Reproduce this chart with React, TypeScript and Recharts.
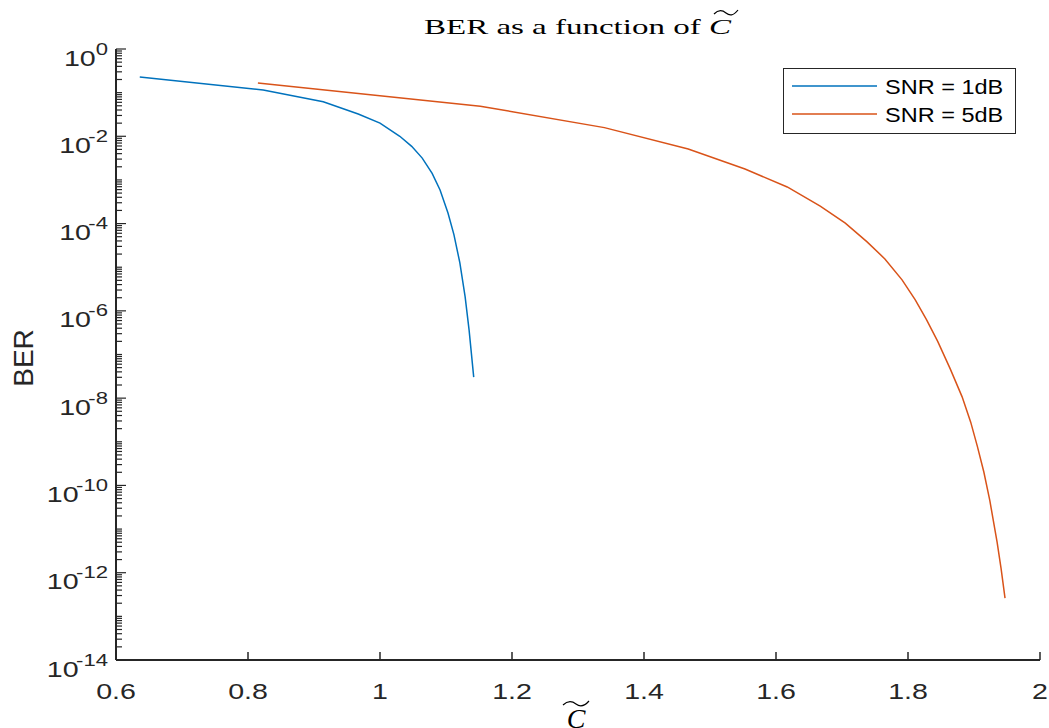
import React from 'react';
import { LineChart, Line, XAxis, YAxis, Legend, Customized } from 'recharts';

// ---- data ----
const snr1C = [0.636, 0.823, 0.914, 0.967, 1.000, 1.030, 1.048, 1.064, 1.079, 1.091, 1.103, 1.112, 1.121, 1.129, 1.135, 1.142];
const snr1BER = [0.229, 0.115, 0.0617, 0.0324, 0.02, 0.01, 5.89e-3, 3.16e-3, 1.41e-3, 5.9e-4, 1.74e-4, 5.6e-5, 1.26e-5, 2.09e-6, 3.63e-7, 3.02e-8];

const snr5C = [0.815, 1.152, 1.340, 1.467, 1.553, 1.617, 1.667, 1.705, 1.738, 1.765, 1.791, 1.811, 1.828, 1.845, 1.864, 1.882, 1.895, 1.905, 1.915, 1.924, 1.935, 1.941, 1.947];
const snr5BER = [0.166, 0.049, 0.0158, 5.13e-3, 1.78e-3, 6.9e-4, 2.51e-4, 1.02e-4, 3.8e-5, 1.55e-5, 5.13e-6, 1.78e-6, 6.31e-7, 2.0e-7, 4.68e-8, 1.07e-8, 2.82e-9, 7.94e-10, 2.0e-10, 4.47e-11, 5.0e-12, 1.26e-12, 2.63e-13];

const seriesNames = ['SNR = 1dB', 'SNR = 5dB'];
const seriesColors = ['#0072BD', '#D95319'];

const xTicks = [0.6, 0.8, 1, 1.2, 1.4, 1.6, 1.8, 2];
const xTickLabels = ['0.6', '0.8', '1', '1.2', '1.4', '1.6', '1.8', '2'];
const yDecades = [0, -1, -2, -3, -4, -5, -6, -7, -8, -9, -10, -11, -12, -13, -14];
const yLabelExponents = [0, -2, -4, -6, -8, -10, -12, -14];
const yMinorMultipliers = [2, 3, 4, 5, 6, 7, 8, 9];

const titleText = 'BER as a function of ';
const xLabelText = 'C';
const yLabelText = 'BER';

// ---- derived tables ----
const snr1Data = snr1C.map((c, i) => ({ x: c, y: snr1BER[i] }));
const snr5Data = snr5C.map((c, i) => ({ x: c, y: snr5BER[i] }));
const yTicks: number[] = [];
yDecades.forEach((d) => {
  yTicks.push(Math.pow(10, d));
  if (d < 0) yMinorMultipliers.forEach((m) => yTicks.push(m * Math.pow(10, d)));
});

const AX = '#262626';
const SANS = '"Liberation Sans", Arial, Helvetica, sans-serif';
const SERIF = '"Liberation Serif", "Times New Roman", serif';
const SX = 1.3;

const tickKind = (v: number) => {
  const l = Math.log10(v);
  const e = Math.round(l);
  const isDecade = Math.abs(l - e) < 1e-6;
  return { e, labeled: isDecade && yLabelExponents.includes(e) };
};

const LeftTick = (props: any) => {
  const { x, y, payload } = props;
  const { e, labeled } = tickKind(payload.value);
  const len = labeled ? 10 : 6;
  return (
    <g>
      <line x1={x} x2={x + len} y1={y} y2={y} stroke={AX} strokeWidth={1.2} />
      {labeled && (
        <g transform={`translate(${x - 8},${y + 16.5}) scale(${SX},1)`}>
          <text x={0} y={0} textAnchor="end" fontFamily={SANS} fontSize={22} fill={AX}>
            <tspan>10</tspan>
            <tspan dy={-11} dx={e < 0 ? -2 : 0} fontSize={17}>{String(e)}</tspan>
          </text>
        </g>
      )}
    </g>
  );
};

const RightTick = (props: any) => {
  const { x, y, payload } = props;
  const { labeled } = tickKind(payload.value);
  const len = labeled ? 10 : 6;
  return <line x1={x} x2={x - len} y1={y} y2={y} stroke={AX} strokeWidth={1.2} />;
};

const BottomTick = (props: any) => {
  const { x, y, payload } = props;
  const idx = xTicks.indexOf(payload.value);
  return (
    <g>
      <line x1={x} x2={x} y1={y} y2={y - 8} stroke={AX} strokeWidth={1.5} />
      <g transform={`translate(${x},${y + 39}) scale(${SX},1)`}>
        <text x={0} y={0} textAnchor="middle" fontFamily={SANS} fontSize={22} fill={AX}>
          {idx >= 0 ? xTickLabels[idx] : ''}
        </text>
      </g>
    </g>
  );
};

const TopTick = (props: any) => {
  const { x, y } = props;
  return <line x1={x} x2={x} y1={y} y2={y + 8} stroke={AX} strokeWidth={1.5} />;
};

const Tilde = ({ x, y, w }: { x: number; y: number; w: number }) => (
  <path
    d={`M ${x} ${y + 2} C ${x + w * 0.2} ${y - 3}, ${x + w * 0.35} ${y - 2}, ${x + w * 0.5} ${y + 1} S ${x + w * 0.8} ${y + 4}, ${x + w} ${y - 2}`}
    fill="none"
    stroke="#000"
    strokeWidth={1.2}
  />
);

const Annotations = () => (
  <g>
    {/* title */}
    <g transform={`translate(424,34) scale(1.5,1)`}>
      <text x={0} y={0} fontFamily={SERIF} fontSize={22} fill="#000">
        {titleText}
        <tspan fontStyle="italic">{xLabelText}</tspan>
      </text>
    </g>
    <Tilde x={714} y={12} w={24} />
    {/* y label */}
    <text
      x={33}
      y={358}
      transform="rotate(-90,33,358)"
      textAnchor="middle"
      fontFamily={SANS}
      fontSize={28}
      fill={AX}
    >
      {yLabelText}
    </text>
    {/* x label */}
    <text x={576} y={728} textAnchor="middle" fontFamily={SERIF} fontStyle="italic" fontSize={28} fill="#000">
      {xLabelText}
    </text>
    <Tilde x={563} y={703} w={26} />
  </g>
);

const renderLegend = (props: any) => {
  const payload = props.payload || [];
  return (
    <svg width={233} height={66} style={{ display: 'block' }}>
      <rect x={0.5} y={0.5} width={232} height={65} fill="#fff" stroke={AX} strokeWidth={1} />
      {payload.map((p: any, i: number) => (
        <g key={i}>
          <line x1={9} x2={94} y1={18 + 28 * i} y2={18 + 28 * i} stroke={p.color} strokeWidth={1.5} />
          <g transform={`translate(102,${25.5 + 28.5 * i}) scale(1.12,1)`}>
            <text x={0} y={0} fontFamily={SANS} fontSize={21} fill="#000">{p.value}</text>
          </g>
        </g>
      ))}
    </svg>
  );
};

export default function App() {
  return (
    <div style={{ position: 'absolute', left: 0, top: 0, background: '#fff' }}>
      <LineChart width={1049} height={728} margin={{ top: 49, right: 9, bottom: 0, left: 0 }}>
        <XAxis
          xAxisId="b"
          type="number"
          dataKey="x"
          domain={[0.6, 2]}
          ticks={xTicks}
          interval={0}
          allowDataOverflow
          height={68}
          tickSize={0}
          tickMargin={0}
          tickLine={false}
          axisLine={{ stroke: AX, strokeWidth: 2 }}
          tick={<BottomTick />}
        />
        <XAxis
          xAxisId="t"
          orientation="top"
          type="number"
          dataKey="x"
          domain={[0.6, 2]}
          ticks={xTicks}
          interval={0}
          allowDataOverflow
          height={0}
          tickSize={0}
          tickMargin={0}
          tickLine={false}
          axisLine={{ stroke: AX, strokeWidth: 2 }}
          tick={<TopTick />}
        />
        <YAxis
          yAxisId="l"
          type="number"
          scale="log"
          domain={[1e-14, 1]}
          ticks={yTicks}
          interval={0}
          allowDataOverflow
          width={116}
          tickSize={0}
          tickMargin={0}
          tickLine={false}
          axisLine={{ stroke: AX, strokeWidth: 2 }}
          tick={<LeftTick />}
        />
        <YAxis
          yAxisId="r"
          orientation="right"
          type="number"
          scale="log"
          domain={[1e-14, 1]}
          ticks={yTicks}
          interval={0}
          allowDataOverflow
          width={0}
          tickSize={0}
          tickMargin={0}
          tickLine={false}
          axisLine={{ stroke: AX, strokeWidth: 2 }}
          tick={<RightTick />}
        />
        <Line
          xAxisId="b"
          yAxisId="l"
          data={snr1Data}
          dataKey="y"
          name={seriesNames[0]}
          type="linear"
          stroke={seriesColors[0]}
          strokeWidth={1.5}
          dot={false}
          isAnimationActive={false}
        />
        <Line
          xAxisId="b"
          yAxisId="l"
          data={snr5Data}
          dataKey="y"
          name={seriesNames[1]}
          type="linear"
          stroke={seriesColors[1]}
          strokeWidth={1.5}
          dot={false}
          isAnimationActive={false}
        />
        <Legend
          layout="vertical"
          align="center"
          verticalAlign="middle"
          content={renderLegend}
          wrapperStyle={{ left: 783, top: 68, width: 233, height: 66 }}
        />
        <Customized component={<Annotations />} />
      </LineChart>
    </div>
  );
}
